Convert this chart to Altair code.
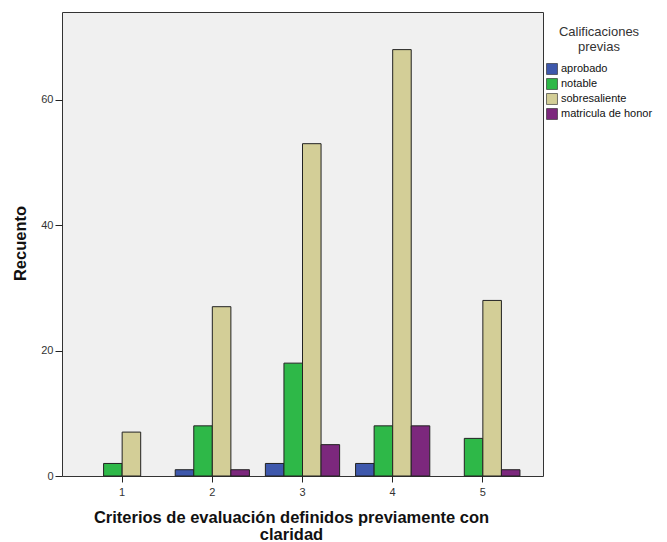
import altair as alt
import pandas as pd

criterios = ["1", "2", "3", "4", "5"]
calificaciones = ["aprobado", "notable", "sobresaliente", "matricula de honor"]
aprobado = [0, 1, 2, 2, 0]
notable = [2, 8, 18, 8, 6]
sobresaliente = [7, 27, 53, 68, 28]
matricula = [0, 1, 5, 8, 1]
colores = ["#3E58AC", "#2EB848", "#D3CE97", "#7C287D"]

rows = []
for serie, vals in zip(calificaciones, [aprobado, notable, sobresaliente, matricula]):
    for c, v in zip(criterios, vals):
        rows.append({"criterio": c, "calificacion": serie, "recuento": v})
df = pd.DataFrame(rows)

FONT = "Liberation Sans"

chart = (
    alt.Chart(df)
    .transform_filter("datum.recuento > 0")
    .mark_bar(stroke="#222222", strokeWidth=1)
    .encode(
        x=alt.X(
            "criterio:N",
            sort=criterios,
            scale=alt.Scale(domain=criterios, paddingInner=0, paddingOuter=0.167),
            axis=alt.Axis(
                title=["Criterios de evaluación definidos previamente con", "claridad"],
                labelAngle=0,
                tickSize=6,
                labelPadding=4,
                titleX=229,
                titleY=46,
                titleBaseline="alphabetic",
                titleLineHeight=17,
            ),
        ),
        xOffset=alt.XOffset(
            "calificacion:N",
            sort=calificaciones,
            scale=alt.Scale(domain=calificaciones, paddingInner=0, paddingOuter=0.43),
        ),
        y=alt.Y(
            "recuento:Q",
            scale=alt.Scale(domain=[0, 74], nice=False),
            axis=alt.Axis(
                title="Recuento",
                values=[0, 20, 40, 60],
                tickSize=7,
                labelPadding=2,
                titleX=-37,
                titleY=231,
                titleBaseline="alphabetic",
            ),
        ),
        color=alt.Color(
            "calificacion:N",
            sort=calificaciones,
            scale=alt.Scale(domain=calificaciones, range=colores),
            legend=alt.Legend(
                title=["Calificaciones", "previas"],
                orient="none",
                legendX=484,
                legendY=14,
                titleAnchor="middle",
                titleAlign="center",
                titleFont=FONT,
                titleFontSize=13,
                titleFontWeight="normal",
                titleColor="#333333",
                titleLineHeight=15,
                titlePadding=9,
                labelFont=FONT,
                labelFontSize=11,
                labelColor="#111111",
                symbolType="square",
                symbolSize=120,
                symbolStrokeColor="#222222",
                symbolStrokeWidth=0.6,
                symbolOpacity=1,
                rowPadding=1,
                labelOffset=3,
            ),
        ),
    )
    .properties(
        width=481,
        height=464,
        autosize=alt.AutoSizeParams(type="none"),
        padding={"left": 54, "top": 4, "right": 116, "bottom": 66},
    )
    .configure_view(fill="#f0f0f0", stroke="#333333", strokeWidth=1)
    .configure_axis(
        grid=False,
        domain=False,
        tickColor="#222222",
        labelFont=FONT,
        labelFontSize=11,
        labelColor="#333333",
        titleFont=FONT,
        titleFontSize=16.5,
        titleFontWeight="bold",
        titleColor="#111111",
    )
)

chart.save("out.html", embed_options={"renderer": "svg", "actions": False})
